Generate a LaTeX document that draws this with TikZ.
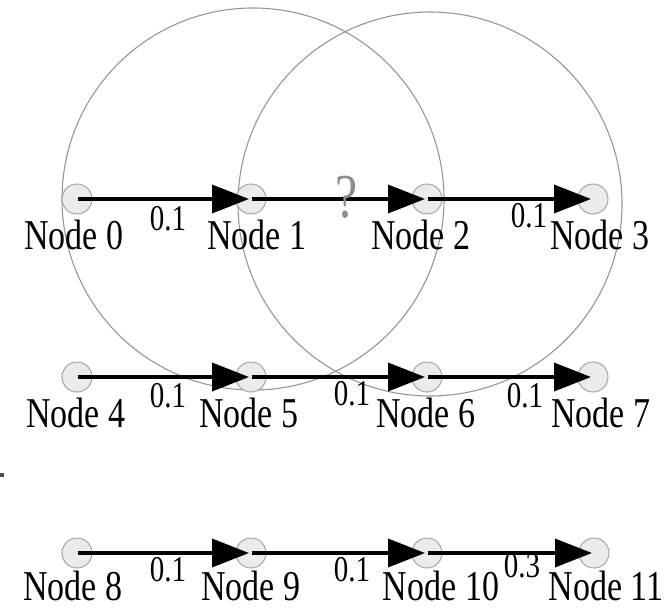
\documentclass[tikz,border=0pt]{standalone}
\usepackage{fontspec}
\setmainfont{Liberation Serif}
\usetikzlibrary{arrows.meta}

\definecolor{ringgray}{RGB}{150,150,150}
\definecolor{nodefill}{RGB}{235,235,235}
\definecolor{nodeline}{RGB}{165,165,165}
\definecolor{askgray}{RGB}{140,140,140}

% labels are set slightly taller than the font's natural shape
\newcommand{\tallText}[1]{\scalebox{1}[1.25]{#1}}

\tikzset{
  radiorange/.style={draw=ringgray, line width=1.1pt},
  host/.style={circle, draw=nodeline, fill=nodefill, line width=1pt,
               minimum size=30pt, inner sep=0pt},
  link/.style={line width=3.6pt, -{Triangle[length=37pt,width=28pt]},
               shorten >=2pt, shorten <=1pt},
  hostname/.style={inner sep=0pt, font=\fontsize{34}{36}\selectfont},
  weight/.style={inner sep=0pt, font=\fontsize{29}{30}\selectfont},
  unknown/.style={inner sep=0pt, text=askgray, font=\fontsize{50}{56}\selectfont}
}

\begin{document}
\begin{tikzpicture}[x=1pt,y=-1pt]
\useasboundingbox (0,0) rectangle (668,607);

% transmission ranges around Node 1 and Node 2
\draw[radiorange] (253,199) circle[radius=191];
\draw[radiorange] (430,204) circle[radius=192];

% small mark at the left edge
\fill[black!70] (0,473) rectangle (4,477);

% hosts
\node[host] (n0)  at (77,199) {};
\node[host] (n1)  at (251,199) {};
\node[host] (n2)  at (427,199) {};
\node[host] (n3)  at (593,199) {};
\node[host] (n4)  at (77,377) {};
\node[host] (n5)  at (251,377) {};
\node[host] (n6)  at (427,377) {};
\node[host] (n7)  at (593,377) {};
\node[host] (n8)  at (77,553) {};
\node[host] (n9)  at (251,553) {};
\node[host] (n10) at (427,553) {};
\node[host] (n11) at (594,553) {};

% links
\draw[link] (n0.center) -- (n1.center);
\draw[link] (n1.center) -- (n2.center);
\draw[link] (n2.center) -- (n3.center);
\draw[link] (n4.center) -- (n5.center);
\draw[link] (n5.center) -- (n6.center);
\draw[link] (n6.center) -- (n7.center);
\draw[link] (n8.center) -- (n9.center);
\draw[link] (n9.center) -- (n10.center);
\draw[link] (n10.center) -- (n11.center);

% host names
\node[hostname] (t0)  at (74,235)  {\tallText{Node 0}};
\node[hostname] (t1)  at (257,235) {\tallText{Node 1}};
\node[hostname] (t2)  at (421,235) {\tallText{Node 2}};
\node[hostname] (t3)  at (600,235) {\tallText{Node 3}};
\node[hostname] (t4)  at (76,413)  {\tallText{Node 4}};
\node[hostname] (t5)  at (249,413) {\tallText{Node 5}};
\node[hostname] (t6)  at (426,413) {\tallText{Node 6}};
\node[hostname] (t7)  at (601,413) {\tallText{Node 7}};
\node[hostname] (t8)  at (73,586)  {\tallText{Node 8}};
\node[hostname] (t9)  at (251,586) {\tallText{Node 9}};
\node[hostname] (t10) at (441,586) {\tallText{Node 10}};
\node[hostname] (t11) at (606,586) {\tallText{Node 11}};

% link weights
\node[weight] (w01)   at (168,219) {\tallText{0.1}};
\node[unknown] (w12)  at (347,197) {\tallText{?}};
\node[weight] (w23)   at (529,216) {\tallText{0.1}};
\node[weight] (w45)   at (168,396) {\tallText{0.1}};
\node[weight] (w56)   at (352,394) {\tallText{0.1}};
\node[weight] (w67)   at (525,396) {\tallText{0.1}};
\node[weight] (w89)   at (168,570) {\tallText{0.1}};
\node[weight] (w910)  at (352,570) {\tallText{0.1}};
\node[weight] (w1011) at (522,566) {\tallText{0.3}};
\end{tikzpicture}
\end{document}
